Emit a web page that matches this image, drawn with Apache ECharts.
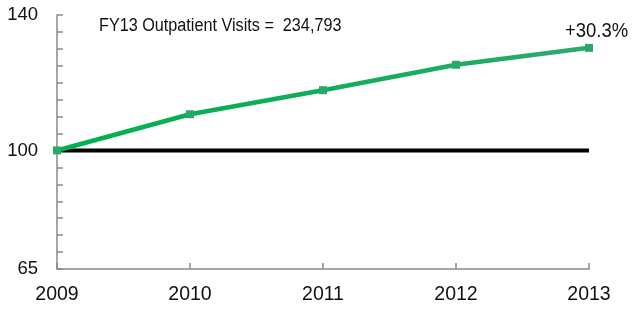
<!DOCTYPE html>
<html>
<head>
<meta charset="utf-8">
<script src="https://cdn.jsdelivr.net/npm/echarts@6/dist/echarts.min.js"></script>
<style>
  html, body { margin: 0; padding: 0; background: #fff; }
  #chart { width: 639px; height: 309px; }
</style>
</head>
<body>
<div id="chart"></div>
<script>
// Outpatient visits index (2009 = 100)
const years = ['2009', '2010', '2011', '2012', '2013'];
const visitsIndex = [100, 110.7, 117.8, 125.3, 130.3];
const baseline = [100, 100, 100, 100, 100];
const yLabels = [65, 100, 140];
const titleText = 'FY13 Outpatient Visits =  234,793';
const changeText = '+30.3%';

const chart = echarts.init(document.getElementById('chart'));
const font = '"Liberation Sans", Arial, sans-serif';

chart.setOption({
    animation: false,
    grid: { left: 57, right: 50, top: 15, bottom: 40 },
    graphic: [
        {
            type: 'text', left: 99, top: 17, scaleX: 0.9,
            style: { text: titleText, font: '18px ' + font, fill: '#111' }
        },
        {
            type: 'text', left: 565, top: 21, scaleX: 0.88,
            style: { text: changeText, font: '21px ' + font, fill: '#111' }
        }
    ],
    xAxis: {
        type: 'category',
        data: years,
        boundaryGap: false,
        axisLine: { lineStyle: { color: '#8a8a8a', width: 1.5 } },
        axisTick: { inside: true, length: 6, lineStyle: { color: '#8a8a8a', width: 1.5 } },
        axisLabel: { color: '#111', fontSize: 19.5, fontFamily: font, margin: 16 }
    },
    yAxis: {
        type: 'value',
        min: 65,
        max: 140,
        interval: 5,
        splitLine: { show: false },
        axisLine: { show: true, lineStyle: { color: '#8a8a8a', width: 1.5 } },
        axisTick: { show: true, inside: true, length: 6, lineStyle: { color: '#8a8a8a', width: 1.5 } },
        axisLabel: {
            color: '#111', fontSize: 18.5, fontFamily: font, margin: 19,
            formatter: v => yLabels.includes(v) ? String(v) : ''
        }
    },
    series: [
        {
            type: 'line',
            data: baseline,
            symbol: 'none',
            lineStyle: { color: '#000', width: 4 },
            z: 2
        },
        {
            type: 'line',
            data: visitsIndex,
            symbol: 'rect',
            symbolSize: 8,
            itemStyle: { color: '#2aa86a' },
            lineStyle: {
                width: 4.5,
                color: new echarts.graphic.LinearGradient(0, 0, 1, 0, [
                    { offset: 0, color: '#00b050' },
                    { offset: 0.5, color: '#0fae58' },
                    { offset: 1, color: '#2ea96e' }
                ])
            },
            z: 3
        }
    ]
});
</script>
</body>
</html>
